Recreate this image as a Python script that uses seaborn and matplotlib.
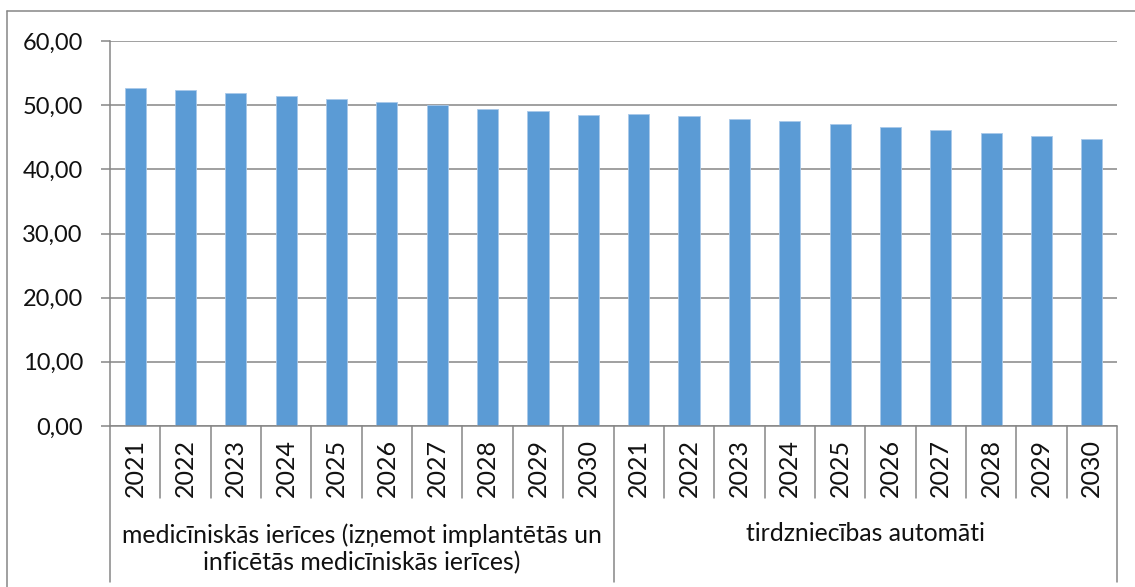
import pandas as pd
import matplotlib.pyplot as plt
import matplotlib.transforms as mtransforms
from matplotlib.lines import Line2D
import seaborn as sns

# -----------------------------
# Data
# -----------------------------
groups = [
    "medicīniskās ierīces (izņemot implantētās un\ninficētās medicīniskās ierīces)",
    "tirdzniecības automāti",
]
years = ["2021", "2022", "2023", "2024", "2025", "2026", "2027", "2028", "2029", "2030"]
values_medical = [52.72, 52.30, 51.84, 51.40, 50.94, 50.46, 50.00, 49.45, 49.02, 48.50]
values_vending = [48.62, 48.24, 47.84, 47.46, 47.04, 46.60, 46.13, 45.66, 45.22, 44.77]

data = pd.DataFrame({
    "group": [groups[0]] * len(years) + [groups[1]] * len(years),
    "year": years + years,
    "value": values_medical + values_vending,
})
data["slot"] = data["group"].str[:5] + "_" + data["year"]

# -----------------------------
# Chart
# -----------------------------
sns.set_style("white")
plt.rcParams["font.family"] = ["Lato", "DejaVu Sans"]

grey = "#868686"
fig = plt.figure(figsize=(11.35, 5.87), dpi=100)
ax = fig.add_axes([110 / 1135, 1 - 426 / 587, 1007 / 1135, 385 / 587])

sns.barplot(
    data=data,
    x="slot",
    y="value",
    order=list(data["slot"]),
    color="#5b9bd5",
    saturation=1,
    width=0.42,
    edgecolor="#a9c9ea",
    linewidth=0.6,
    ax=ax,
)

ax.set_ylim(0, 60)
ax.set_xlim(-0.5, len(data) - 0.5)
ax.set_yticks(range(0, 61, 10))
ax.set_yticklabels([f"{v:.2f}".replace(".", ",") for v in range(0, 61, 10)],
                   fontsize=17, color="#111111")
ax.yaxis.grid(True, color=grey, linewidth=1.1)
ax.set_axisbelow(True)
ax.tick_params(axis="y", length=6.5, width=1.1, color=grey, pad=13, left=True)
ax.set_xticks([])
ax.set_xlabel("")
ax.set_ylabel("")

for side in ["top", "right", "bottom"]:
    ax.spines[side].set_visible(False)
ax.spines["left"].set_color(grey)
ax.spines["left"].set_linewidth(1.1)

# multi-level category axis
trans = mtransforms.blended_transform_factory(ax.transData, ax.transAxes)
ax.plot([-0.5, len(data) - 0.5], [0, 0], color=grey, lw=1.1, transform=trans, clip_on=False)
for i in range(len(data) + 1):
    depth = -0.405 if i % len(years) == 0 else -0.187
    ax.plot([i - 0.5, i - 0.5], [0, depth], color=grey, lw=1.1,
            transform=trans, clip_on=False)

for i, yr in enumerate(data["year"]):
    ax.text(i, -0.11, yr, rotation=90, ha="center", va="center",
            fontsize=18, color="#111111", transform=trans)

group_y = [-0.318, -0.278]
for g, name in enumerate(groups):
    ax.text(g * len(years) + (len(years) - 1) / 2, group_y[g], name,
            ha="center", va="center", fontsize=17.8, linespacing=1.2,
            color="#111111", transform=trans)

# outer chart border (left and top only visible)
fig.add_artist(Line2D([7 / 1135, 7 / 1135], [0, 1 - 11 / 587], color=grey, lw=1.1))
fig.add_artist(Line2D([7 / 1135, 1], [1 - 11 / 587, 1 - 11 / 587], color=grey, lw=1.1))

plt.savefig("out.png", dpi=100)
plt.close()
